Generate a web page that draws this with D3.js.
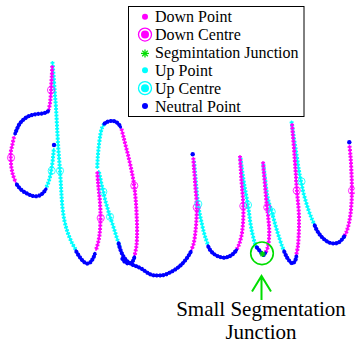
<!DOCTYPE html>
<html>
<head>
<meta charset="utf-8">
<script src="https://cdn.jsdelivr.net/npm/d3@7.9.0/dist/d3.min.js"></script>
<style>
  body { margin: 0; background: #fff; }
</style>
</head>
<body>
<div id="chart"></div>
<script>
const width = 355;
const height = 345;
const serif = "Liberation Serif";

// pen trace, one polyline per stroke piece (x, y in tablet units, y grows downward)
const downStrokes = [
  [[52.2,66],[51.8,76],[51.2,86],[50.8,95],[50,103],[48.8,110]],
  [[14,137],[12.3,145],[10.8,152],[10.8,160],[11.5,168],[13,175],[15.5,182]],
  [[97.3,172],[98,182],[99,192],[100,203],[100.5,214],[100.3,225],[99.5,235],[98,243],[96,250]],
  [[121.5,129],[123.5,137],[126,147],[128.5,157],[131,168],[133,178],[134.5,188],[135.7,200],[136.5,212],[137,225],[137,237],[136.3,247],[134.5,256]],
  [[193.3,158],[194,168],[194.8,178],[195.6,190],[196.5,200],[196.8,210],[196.3,222],[195.3,233],[193.8,243],[191.5,250]],
  [[240,156],[240.6,166],[241.3,178],[242.2,190],[243,200],[243.4,210],[243.2,220],[242.5,229],[241.2,237],[239.2,244],[236.5,250]],
  [[263,162],[263.8,172],[264.8,183],[265.8,195],[267,207],[268.3,218],[269.2,229],[269,239],[267.8,247],[265.5,253]],
  [[292,124],[292.8,134],[293.8,146],[294.8,160],[295.8,174],[296.7,188],[297.8,200],[298.8,212],[299,224],[298.7,236],[297.8,247],[296,256]],
  [[349.5,146],[350.5,156],[351.2,167],[351.7,179],[351.9,191],[351.5,203],[350.5,214],[349,223],[346.8,231],[344,237]]
];

const upStrokes = [
  [[52.4,62],[53.3,72],[54.2,84],[55,95],[56,108],[56.8,122],[57.5,135],[58.3,148],[59.2,160],[60,171],[60.8,183],[61.5,195],[62.5,208],[64.5,221],[67.5,232],[71.5,242],[76,250]],
  [[46.5,187],[48.5,182],[50.2,176],[51.5,169],[52.5,162],[53.3,155],[53.8,149]],
  [[97.3,168],[97.6,160],[98.3,151],[99.3,142],[100.5,134],[102,128],[104.5,123.5]],
  [[119.8,247],[117.5,240],[115,232],[112.5,224],[110,216.7],[107.5,208],[105.2,200],[103.3,191.7],[101.5,184],[99.8,176],[98.8,171]],
  [[194,161],[194.8,170],[195.8,181],[196.8,192],[198,203],[199.5,213],[201.5,222],[203.5,231],[205.5,238],[208,245]],
  [[240.5,158],[241.8,168],[243.2,178],[244.8,188],[246.5,197],[248,206],[249.3,215],[250.7,225],[252.5,234],[254.5,242],[256.5,247]],
  [[263.3,164],[264.5,174],[265.8,185],[267.3,196],[269.3,204],[271.7,211.7],[274,220],[276.5,229],[279.3,238],[282,246],[284,251]],
  [[291.5,121.5],[292.8,130],[294.2,140],[295.8,150],[297.3,160],[298.8,170],[300.3,178],[302,186],[304,195],[306.3,203],[308.8,211],[311.5,218],[314.5,225]]
];

const neutralStrokes = [
  [[48.5,111],[46,112.5],[42,113.5],[37,114],[32,115],[27,117],[23,120],[19.5,124],[17,129],[15,134]],
  [[16.5,184],[19.5,188],[23.5,191.5],[28,194],[33,196],[38,196],[42.5,193.5],[46,189]],
  [[76,251],[79,256],[82.5,260.5],[86.5,263.5],[90,262.5],[93,258.5],[95,253.5]],
  [[104,124],[107,122],[111,121],[115,121.5],[118.5,124],[120.5,127]],
  [[118.5,243],[120.5,250],[123.5,256.5],[127.5,261.5],[132,264.5],[137,266.5],[142,269],[147,272.5],[152,275],[158,275.5],[164,275],[170,272.5],[176,269],[181,265],[185.5,260],[189,255],[191,251.5]],
  [[134.5,257],[132.5,261.5],[129,263.5],[125,262],[122,258.5]],
  [[208,246],[210.5,250.5],[214,254],[218,256.3],[222,257.5],[226,257.5],[230,256],[233.5,253.5],[236.5,250]],
  [[256.5,247],[259,250],[261.5,253],[263.5,255],[265.5,253]],
  [[284,251],[286.5,256.5],[289.5,261],[292.5,263.5],[295,261],[296.5,256]],
  [[314.5,225],[317,230.5],[320.5,235.5],[324.5,239.5],[329,242.5],[334,243.5],[338.5,242.5],[342,239.5],[344.5,236]]
];

const neutralDots = [[54,145],[192.7,154.3],[349.3,142.3]];

const downCentres = [[51,90],[11,157.7],[100.7,218],[134.3,185.7],[196.7,207.3],[243.3,206],[267.3,207.3],[296.7,190.5],[352,190.7]];
const upCentres = [[51.7,170.7],[60,170.7],[103.3,191.7],[110,216.7],[198.3,204],[248,205],[271.7,211.7],[301.5,181.5]];
const junctions = [[262.5,254]];

const legendLabels = ["Down Point", "Down Centre", "Segmintation Junction", "Up Point", "Up Centre", "Neutral Point"];
const legendKinds = ["down", "downCentre", "junction", "up", "upCentre", "neutral"];
const noteLines = ["Small Segmentation", "Junction"];

const colors = { down: "#ff00ff", up: "#00ffff", neutral: "#0000ff", junction: "#00dd00" };

const svg = d3.select("#chart")
  .append("svg")
  .attr("width", width)
  .attr("height", height);

const x = d3.scaleLinear().domain([0, 355]).range([0, width]);
const y = d3.scaleLinear().domain([0, 345]).range([0, height]);

const line = d3.line()
  .x(d => x(d[0]))
  .y(d => y(d[1]))
  .curve(d3.curveCatmullRom);

// draws a stroke as a row of chunky "+" markers
function drawStrokes(data, color, solid) {
  const g = svg.append("g");
  g.selectAll("path.base")
    .data(data)
    .join("path")
    .attr("class", "base")
    .attr("d", line)
    .attr("fill", "none")
    .attr("stroke", color)
    .attr("stroke-width", solid ? 3.2 : 1.8)
    .attr("stroke-linecap", "round");
  g.selectAll("path.marks")
    .data(data)
    .join("path")
    .attr("class", "marks")
    .attr("d", line)
    .attr("fill", "none")
    .attr("stroke", color)
    .attr("stroke-width", 4)
    .attr("stroke-dasharray", "1.8 1.5");
}

drawStrokes(upStrokes, colors.up, false);
drawStrokes(downStrokes, colors.down, false);
drawStrokes(neutralStrokes, colors.neutral, true);

svg.append("g")
  .selectAll("circle")
  .data(neutralDots)
  .join("circle")
  .attr("cx", d => x(d[0]))
  .attr("cy", d => y(d[1]))
  .attr("r", 2.2)
  .attr("fill", colors.neutral);

svg.append("g")
  .selectAll("circle")
  .data(downCentres)
  .join("circle")
  .attr("cx", d => x(d[0]))
  .attr("cy", d => y(d[1]))
  .attr("r", 3.6)
  .attr("fill", "none")
  .attr("stroke", colors.down)
  .attr("stroke-width", 1)
  .attr("stroke-opacity", 0.8);

svg.append("g")
  .selectAll("circle")
  .data(upCentres)
  .join("circle")
  .attr("cx", d => x(d[0]))
  .attr("cy", d => y(d[1]))
  .attr("r", 3.6)
  .attr("fill", "none")
  .attr("stroke", colors.up)
  .attr("stroke-width", 1)
  .attr("stroke-opacity", 0.8);

function asterisk(g, cx, cy, r) {
  [[r, 0], [0, r], [r * 0.7, r * 0.7], [r * 0.7, -r * 0.7]].forEach(([dx, dy]) => {
    g.append("line")
      .attr("x1", cx - dx).attr("y1", cy - dy)
      .attr("x2", cx + dx).attr("y2", cy + dy)
      .attr("stroke", colors.junction)
      .attr("stroke-width", 1.3);
  });
}

// junction marker, circle and arrow
const jg = svg.append("g");
junctions.forEach(d => {
  const cx = x(d[0]), cy = y(d[1]);
  asterisk(jg, cx, cy, 3);
  jg.append("circle")
    .attr("cx", cx - 0.5).attr("cy", cy - 0.7)
    .attr("r", 11.3)
    .attr("fill", "none")
    .attr("stroke", colors.junction)
    .attr("stroke-width", 1.6);
  jg.append("path")
    .attr("d", `M${cx - 1},${cy + 46} L${cx - 1},${cy + 22} M${cx - 10.5},${cy + 37.5} L${cx - 1},${cy + 22} L${cx + 8.5},${cy + 37.5}`)
    .attr("fill", "none")
    .attr("stroke", colors.junction)
    .attr("stroke-width", 2);
  jg.selectAll("text")
    .data(noteLines)
    .join("text")
    .attr("x", cx - 1.5)
    .attr("y", (t, i) => cy + 62 + i * 23)
    .attr("text-anchor", "middle")
    .attr("font-family", serif)
    .attr("font-size", 21)
    .attr("fill", "#000")
    .text(t => t);
});

// legend
const legend = svg.append("g");
legend.append("rect")
  .attr("x", 128.5).attr("y", 6.5)
  .attr("width", 175.5).attr("height", 110)
  .attr("fill", "#fff")
  .attr("stroke", "#000")
  .attr("stroke-width", 1);

const rowY = d3.scalePoint().domain(legendKinds).range([16.7, 106]);

legendKinds.forEach((k, i) => {
  const cy = rowY(k);
  const mx = 145;
  if (k === "junction") {
    asterisk(legend, mx, cy + 1, 4);
  } else {
    const c = k.startsWith("down") ? colors.down : k.startsWith("up") ? colors.up : colors.neutral;
    const centre = k.endsWith("Centre");
    legend.append("circle")
      .attr("cx", mx).attr("cy", cy)
      .attr("r", centre ? 4 : 3)
      .attr("fill", c);
    if (centre) {
      legend.append("circle")
        .attr("cx", mx).attr("cy", cy)
        .attr("r", 6.5)
        .attr("fill", "none")
        .attr("stroke", c)
        .attr("stroke-width", 1.3);
    }
  }
  legend.append("text")
    .attr("x", 155)
    .attr("y", cy + 5.5)
    .attr("font-family", serif)
    .attr("font-size", 16)
    .attr("fill", "#000")
    .text(legendLabels[i]);
});
</script>
</body>
</html>
